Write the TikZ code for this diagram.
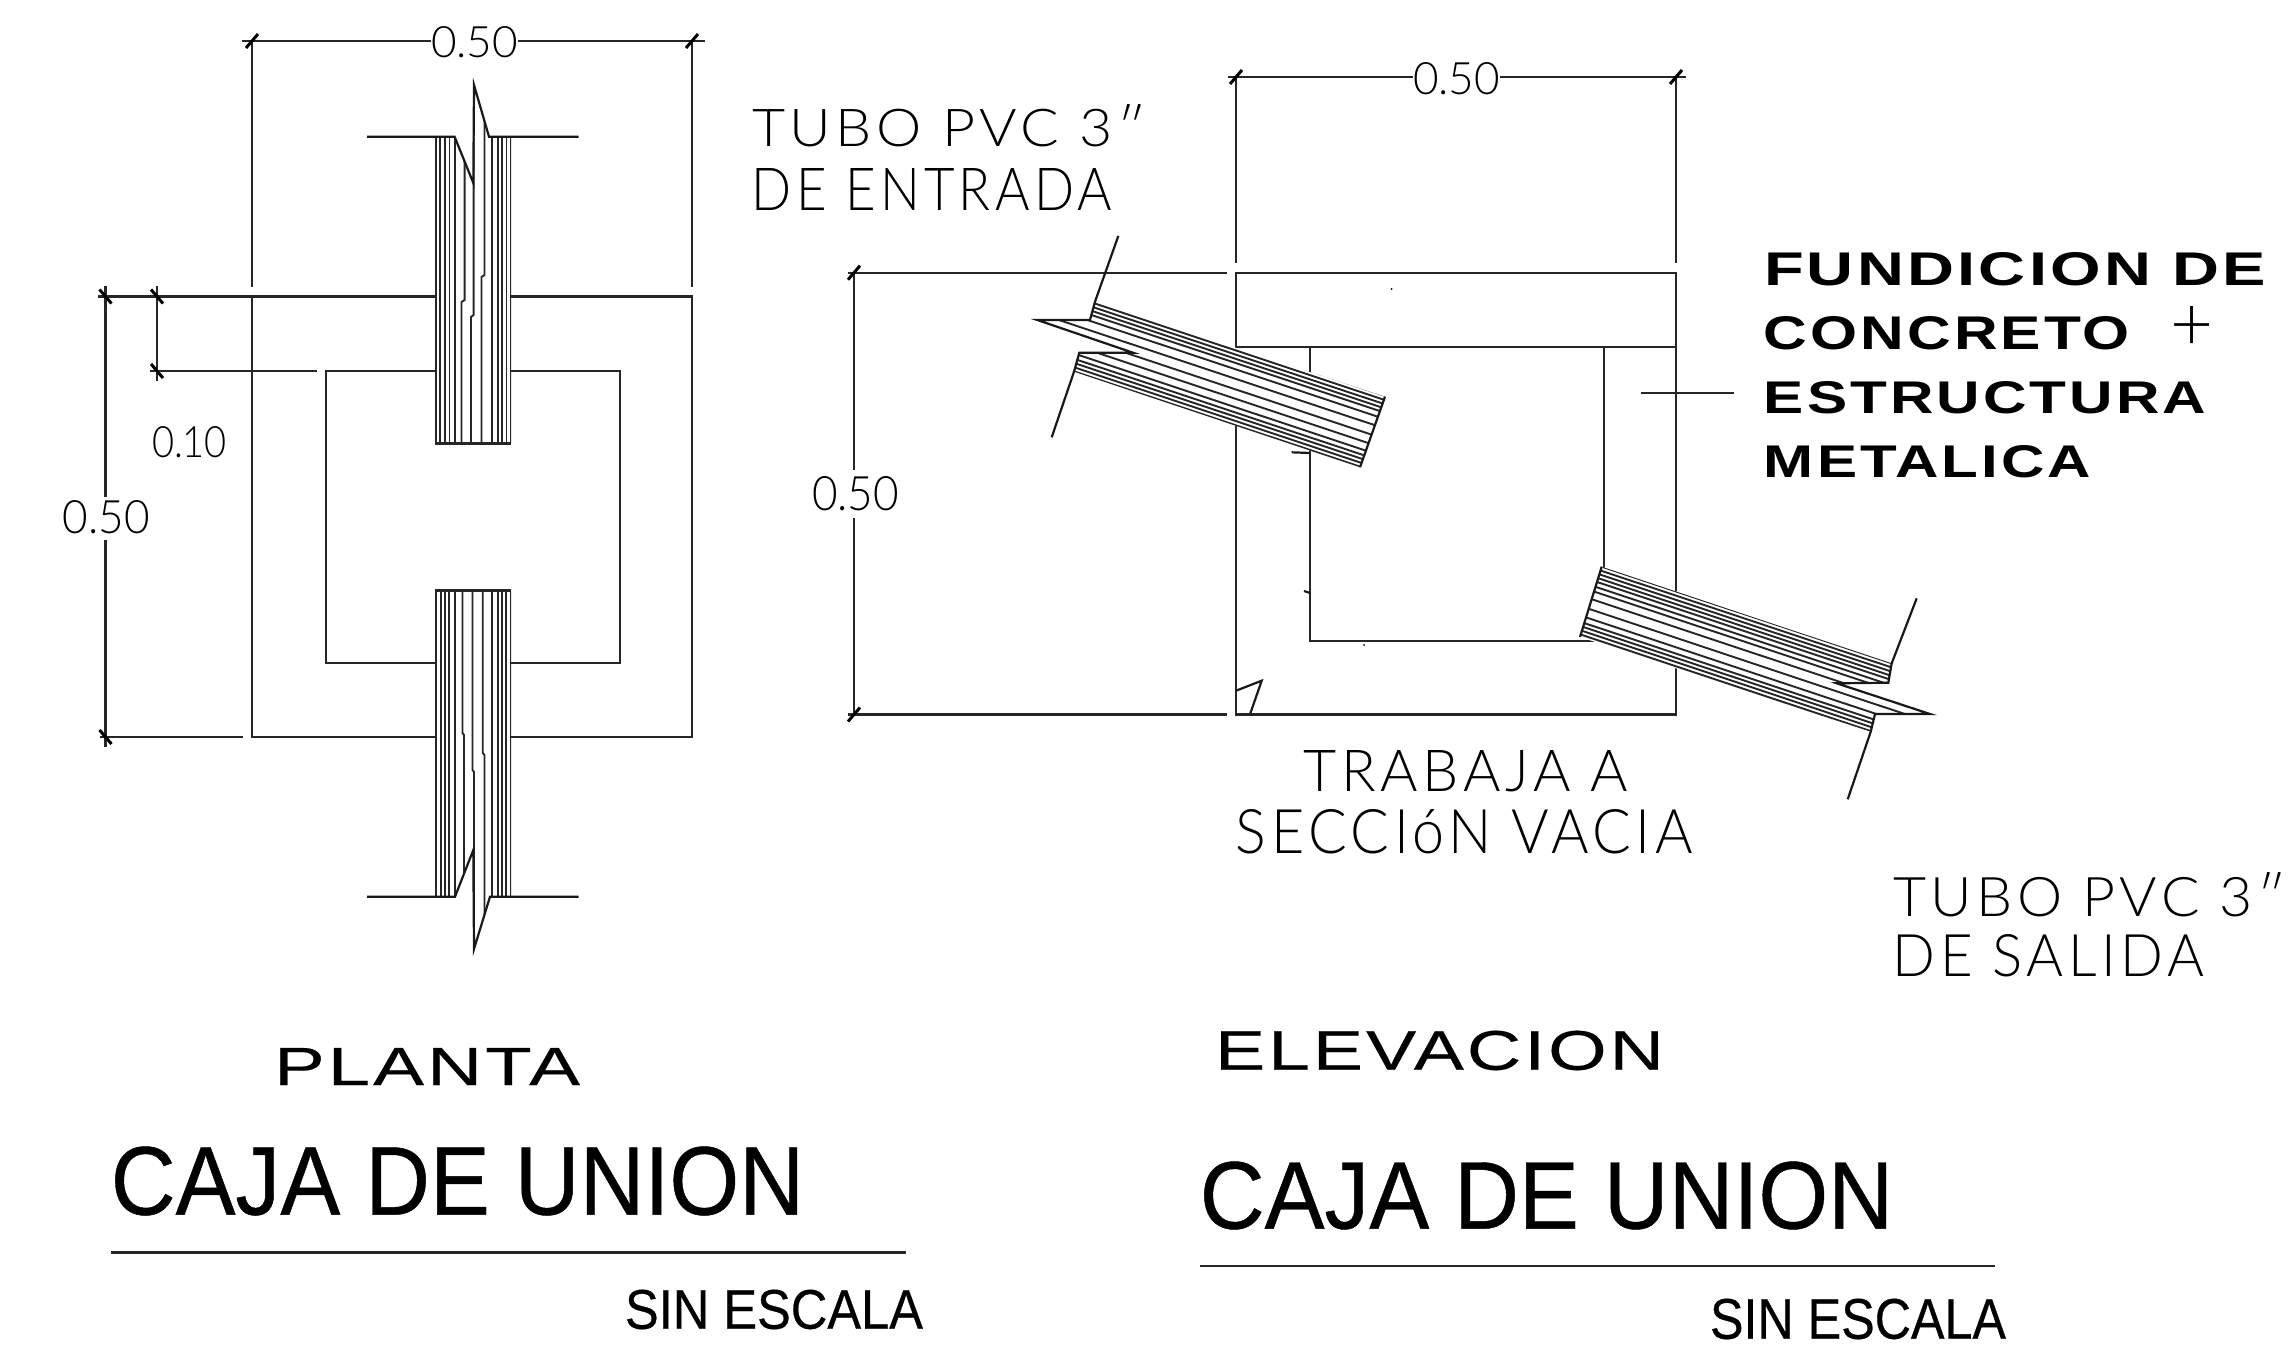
\documentclass[tikz,border=0pt]{standalone}
\usepackage{fontspec}
\usepackage{graphicx}
\setmainfont{Liberation Sans}
\newfontfamily\cadf[LetterSpace=8]{Lato Light}
\newfontfamily\cadn{Lato Light}
\newfontfamily\widebf[LetterSpace=5]{Liberation Sans Bold}
\newfontfamily\widerg[LetterSpace=4,FakeBold=0.3]{Liberation Sans}
\newfontfamily\arialf[FakeBold=0.5]{Liberation Sans}
\newcommand{\boxtext}[7][]{%
  \pgfmathsetmacro{\cxx}{(#3+#5)/2}\pgfmathsetmacro{\cyy}{(#4+#6)/2}%
  \pgfmathsetmacro{\wdd}{#5-#3}\pgfmathsetmacro{\htt}{#6-#4}%
  \node[inner sep=0pt,outer sep=0pt] (#2) at (\cxx,\cyy) {\resizebox{\wdd pt}{\htt pt}{#7}};}
\newcommand{\slashtick}[3]{\draw[tickline] ({#1-#3*6},{#2+7}) -- ({#1+#3*6},{#2-7});}
\tikzset{
  wall/.style={line width=2.4pt,black!85,line cap=butt},
  tickline/.style={line width=3pt,black},
  hatch/.style={line width=1.9pt,black!85},
  brk/.style={line width=2.2pt,black!90,line join=miter}
}
\begin{document}
\begin{tikzpicture}[x=1pt,y=-1pt]
\useasboundingbox (0,0) rectangle (2289,1367);
\fill[white] (0,0) rectangle (2289,1367);
% ---------- PLANTA ----------
\draw[wall] (252,296.5) rectangle (692,737);
\draw[wall] (326,371) rectangle (620,663);
% dimensions
\draw[wall] (242,41) -- (431,41) (518,41) -- (705,41);
\draw[wall] (252,41) -- (252,287) (692,41) -- (692,287);
\draw[wall] (98,296.5) -- (252,296.5);
\draw[wall] (150,371) -- (317,371);
\draw[wall] (100,737) -- (243,737);
\draw[wall] (105.5,286) -- (105.5,497) (105.5,540) -- (105.5,747);
\draw[wall] (157,286) -- (157,381);
\slashtick{252}{41}{1}\slashtick{692}{41}{1}
\slashtick{105.5}{296.5}{-1}\slashtick{157}{296.5}{-1}\slashtick{157}{371}{-1}\slashtick{105.5}{737}{-1}
% top pipe
\fill[white] (435,136.7) rectangle (511,443.5);
\begin{scope}
\clip (435,136.7) -- (454.6,136.7) -- (473.3,183) -- (474,85) -- (489,136.7) -- (511,136.7) -- (511,443.5) -- (435,443.5) -- cycle;
\foreach \xa in {435.7,440,445,449.5,455,492,498,502,506.5,510.7}
  \draw[hatch] (\xa,80) -- (\xa,444);
\draw[hatch] (464.6,80) -- (464.6,300) -- (461.5,302) -- (461.5,444);
\draw[hatch] (473.6,80) -- (473.6,315) -- (471,317) -- (471,444);
\draw[hatch] (484.5,80) -- (484.5,275) -- (481.5,277) -- (481.5,444);
\end{scope}
\draw[brk] (367,136.7) -- (454.6,136.7) -- (473.3,183) -- (474,85) -- (489,136.7) -- (578.7,136.7);
\draw[wall] (435,443.5) -- (511,443.5);
% bottom pipe
\fill[white] (435,590.3) rectangle (511,896.7);
\begin{scope}
\clip (435,590.3) -- (511,590.3) -- (511,896.7) -- (490,896.7) -- (474,949) -- (473.3,850) -- (455,896.7) -- (435,896.7) -- cycle;
\foreach \xa in {435.7,440.7,445,449.3,455,491.7,497.7,501.7,506,510.7}
  \draw[hatch] (\xa,590) -- (\xa,950);
\draw[hatch] (462.5,590) -- (462.5,733) -- (464,735) -- (464,950);
\draw[hatch] (472.5,590) -- (472.5,770) -- (474,772) -- (474,950);
\draw[hatch] (482.7,590) -- (482.7,753) -- (484.5,755) -- (484.5,950);
\end{scope}
\draw[brk] (367,896.7) -- (455,896.7) -- (473.3,850) -- (474,949) -- (490,896.7) -- (578.7,896.7);
\draw[wall] (435,590.3) -- (511,590.3);
% ---------- ELEVACION ----------
\draw[wall] (1236,272.7) rectangle (1676,714.5);
\draw[wall] (1310,346.7) rectangle (1604,640.7);
\draw[wall] (1236,346.7) -- (1676,346.7);
\draw[wall] (1228,77) -- (1413,77) (1500,77) -- (1686,77);
\draw[wall] (1236,77) -- (1236,263) (1676,77) -- (1676,263);
\draw[wall] (848,272.7) -- (1227,272.7);
\draw[wall] (848,714.5) -- (1227,714.5);
\draw[wall] (854,272.7) -- (854,470) (854,518) -- (854,714.5);
\slashtick{1236}{77}{1}\slashtick{1676}{77}{1}\slashtick{854}{272.7}{1}\slashtick{854}{714.5}{1}
\draw[wall] (1641,392.7) -- (1734,392.7);
\draw[brk] (1236,690.7) -- (1261.7,680.7) -- (1250,714.3);
\draw[brk] (1304,591) -- (1310,593);
\fill (1364,645) circle (1pt) (1391.7,289) circle (1pt);
% entrance pipe
\fill[white] (1095,301.7) -- (1090,320) -- (1037.3,320) -- (1133,352.7) -- (1079.3,352.7) -- (1074,371.7) -- (1360,467.3) -- (1385,396.7) -- cycle;
\begin{scope}
\clip (1095,301.7) -- (1090,320) -- (1037.3,320) -- (1133,352.7) -- (1079.3,352.7) -- (1074,371.7) -- (1360,467.3) -- (1385,396.7) -- cycle;
\foreach \ff in {0,4,8,12,16,22,31,41,50,58,63,67,71,75}
  \draw[hatch] ({1097-.316*\ff-60*.949},{300+.949*\ff-60*.316}) -- ({1097-.316*\ff+320*.949},{300+.949*\ff+320*.316});
\end{scope}
\draw[brk] (1118.3,236) -- (1095,301.7) -- (1090,320) -- (1037.3,320) -- (1133,352.7) -- (1079.3,352.7) -- (1074,371.7) -- (1051.7,437.3);
\draw[brk] (1385,396.7) -- (1360,467.3);
\draw[brk] (1291.7,452.3) -- (1310,453);
% exit pipe
\fill[white] (1601.7,566.7) -- (1891.7,663.3) -- (1888.3,682.7) -- (1836.7,683.3) -- (1930,714) -- (1875,714) -- (1870.7,731.7) -- (1580,637) -- cycle;
\begin{scope}
\clip (1601.7,566.7) -- (1891.7,663.3) -- (1888.3,682.7) -- (1836.7,683.3) -- (1930,714) -- (1875,714) -- (1870.7,731.7) -- (1580,637) -- cycle;
\foreach \ff in {0,4,8,12,16,21,26,34,44,53,59,63,67,71,75}
  \draw[hatch] ({1601.7-.316*\ff-30*.949},{566.7+.949*\ff-30*.316}) -- ({1601.7-.316*\ff+370*.949},{566.7+.949*\ff+370*.316});
\end{scope}
\draw[brk] (1601.7,566.7) -- (1580,637);
\draw[brk] (1916.7,598.3) -- (1891.7,663.3) -- (1888.3,682.7) -- (1836.7,683.3) -- (1930,714) -- (1875,714) -- (1870.7,731.7) -- (1847.7,799.3);
% ---------- TEXT ----------
\boxtext{d1}{431}{27}{518}{58}{\cadn 0.50}
\boxtext{d2}{152}{427}{227}{458}{\cadn 0.10}
\boxtext{d3}{63}{501}{150}{534}{\cadn 0.50}
\boxtext{d4}{1413}{63}{1500}{95}{\cadn 0.50}
\boxtext{d5}{812}{477}{899}{511}{\cadn 0.50}
\boxtext{t1}{752}{105}{1146}{147}{\cadf TUBO PVC 3″}
\boxtext{t2}{752}{168}{1112}{210}{\cadf DE ENTRADA}
\boxtext{t3}{1304}{751}{1628}{792}{\cadf TRABAJA A}
\boxtext{t4}{1236}{810}{1693}{854}{\cadf SECCIóN VACIA}
\boxtext{t5}{1893}{873}{2286}{917}{\cadf TUBO PVC 3″}
\boxtext{t6}{1893}{935}{2204}{977}{\cadf DE SALIDA}
\boxtext{f1}{1764}{253}{2266}{286}{\widebf FUNDICION DE}
\boxtext{f2}{1764}{317}{2130}{350}{\widebf CONCRETO}
\boxtext{f3}{2170}{306}{2213}{350}{\cadn +}
\boxtext{f4}{1764}{382}{2206}{414}{\widebf ESTRUCTURA}
\boxtext{f5}{1764}{446}{2091}{478}{\widebf METALICA}
\boxtext{p1}{274}{1048}{580}{1085}{\widerg PLANTA}
\boxtext{p2}{1215}{1031}{1664}{1070}{\widerg ELEVACION}
\boxtext{c1}{111}{1147}{804}{1215}{\arialf CAJA DE UNION}
\boxtext{c2}{1200}{1162}{1893}{1229}{\arialf CAJA DE UNION}
\boxtext{s1}{625}{1290}{923}{1329}{\arialf SIN ESCALA}
\boxtext{s2}{1710}{1299}{2006}{1339}{\arialf SIN ESCALA}
\draw[wall] (111,1252.5) -- (906,1252.5);
\draw[wall] (1200,1266) -- (1995,1266);
\end{tikzpicture}
\end{document}
